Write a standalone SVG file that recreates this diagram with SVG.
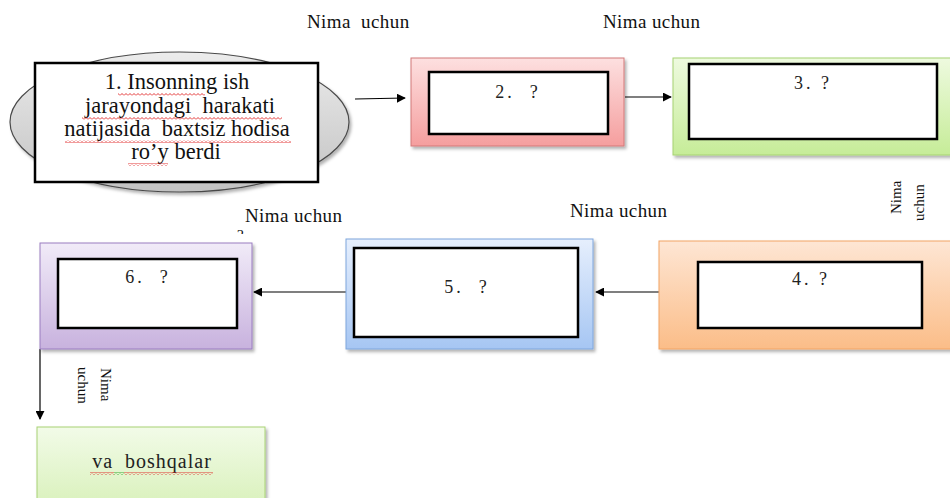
<svg xmlns="http://www.w3.org/2000/svg" width="950" height="498" viewBox="0 0 950 498">
  <defs>
    <style>
      .lbl { font-family: "Liberation Serif", "Times New Roman", serif; font-size: 19px; letter-spacing: 0.4px; fill: #111; }
      .vlbl { font-family: "Liberation Serif", "Times New Roman", serif; font-size: 15px; fill: #111; }
      .main { font-family: "Liberation Serif", "Times New Roman", serif; font-size: 22.5px; fill: #111; text-anchor: middle; }
      .num { font-family: "Liberation Serif", "Times New Roman", serif; font-size: 18px; letter-spacing: 3px; fill: #222; text-anchor: middle; }
      .inner { fill: #ffffff; stroke: #000; stroke-width: 2.5; }
      .wire { stroke: #000; stroke-width: 1.2; fill: none; marker-end: url(#arrow); }
    </style>
    <marker id="arrow" viewBox="0 0 10 10" refX="9" refY="5" markerWidth="9" markerHeight="9" markerUnits="userSpaceOnUse" orient="auto">
      <path d="M0,0 L10,5 L0,10 Z" fill="#000"/>
    </marker>
    <filter id="shadow" x="-5%" y="-5%" width="115%" height="120%">
      <feDropShadow dx="2" dy="2.5" stdDeviation="1.5" flood-color="#000" flood-opacity="0.3"/>
    </filter>
    <linearGradient id="gEllipse" x1="0" y1="0" x2="0" y2="1">
      <stop offset="0" stop-color="#ececec"/>
      <stop offset="1" stop-color="#c2c2c2"/>
    </linearGradient>
    <linearGradient id="gRed" x1="0" y1="0" x2="0" y2="1">
      <stop offset="0" stop-color="#fde0e0"/>
      <stop offset="1" stop-color="#f59e9e"/>
    </linearGradient>
    <linearGradient id="gGreen" x1="0" y1="0" x2="0" y2="1">
      <stop offset="0" stop-color="#eefadf"/>
      <stop offset="1" stop-color="#c6ec98"/>
    </linearGradient>
    <linearGradient id="gOrange" x1="0" y1="0" x2="0" y2="1">
      <stop offset="0" stop-color="#fee6d4"/>
      <stop offset="1" stop-color="#fbbd88"/>
    </linearGradient>
    <linearGradient id="gBlue" x1="0" y1="0" x2="0" y2="1">
      <stop offset="0" stop-color="#e6effd"/>
      <stop offset="1" stop-color="#a6c6f3"/>
    </linearGradient>
    <linearGradient id="gPurple" x1="0" y1="0" x2="0" y2="1">
      <stop offset="0" stop-color="#f1ebf8"/>
      <stop offset="1" stop-color="#c8b2de"/>
    </linearGradient>
    <linearGradient id="gLime" x1="0" y1="0" x2="0" y2="1">
      <stop offset="0" stop-color="#f2fbe8"/>
      <stop offset="1" stop-color="#d9f1bb"/>
    </linearGradient>
    <!-- wavy spell-check underline -->
    <pattern id="wavy" width="4" height="3" patternUnits="userSpaceOnUse">
      <path d="M0,2.5 L2,0.5 L4,2.5" fill="none" stroke="#e02020" stroke-width="0.9"/>
    </pattern>
    <pattern id="wavyG" width="4" height="3" patternUnits="userSpaceOnUse">
      <path d="M0,2.5 L2,0.5 L4,2.5" fill="none" stroke="#20a020" stroke-width="0.9"/>
    </pattern>
    <clipPath id="qClip">
      <rect x="230" y="226" width="20" height="8"/>
    </clipPath>
  </defs>

  <rect width="950" height="498" fill="#ffffff"/>

  <!-- edge labels -->
  <g id="labels">
    <text class="lbl" x="307" y="28" xml:space="preserve">Nima  uchun</text>
    <text class="lbl" x="603" y="28">Nima uchun</text>
    <text class="lbl" x="245" y="222">Nima uchun</text>
    <text class="vlbl" x="237" y="240" clip-path="url(#qClip)">?</text>
    <text class="lbl" x="570" y="217">Nima uchun</text>
    <text class="vlbl" transform="translate(901,214) rotate(-90)">Nima</text>
    <text class="vlbl" transform="translate(924,221) rotate(-90)">uchun</text>
    <rect x="60" y="350" width="75" height="5" fill="#ffffff"/>
    <text class="vlbl" transform="translate(101,368) rotate(90)">Nima</text>
    <text class="vlbl" transform="translate(78,367) rotate(90)">uchun</text>
  </g>

  <!-- connectors -->
  <g id="connectors">
    <line class="wire" x1="355" y1="99" x2="405" y2="98"/>
    <line class="wire" x1="625" y1="97" x2="671" y2="97"/>
    <line class="wire" x1="659" y1="292" x2="596" y2="292"/>
    <line class="wire" x1="346" y1="292" x2="254" y2="292"/>
    <line class="wire" x1="40" y1="349" x2="40" y2="419"/>
  </g>

  <!-- node 1: starting event -->
  <g id="node1">
    <ellipse cx="179.5" cy="122" rx="169.5" ry="70" fill="url(#gEllipse)" stroke="#4a4a4a" stroke-width="1.2" filter="url(#shadow)"/>
    <rect x="35" y="63" width="283" height="119" fill="#ffffff" stroke="#000" stroke-width="2.5"/>
    <text class="main" x="177" y="89">1. Insonning ish</text>
    <text class="main" x="180" y="113" xml:space="preserve">jarayondagi  harakati</text>
    <text class="main" x="177" y="136" xml:space="preserve">natijasida  baxtsiz hodisa</text>
    <text class="main" x="176" y="159">ro’y berdi</text>
    <rect x="118" y="93" width="87" height="3" fill="url(#wavy)"/>
    <rect x="82" y="117" width="200" height="3" fill="url(#wavy)"/>
    <rect x="65" y="140" width="226" height="3" fill="url(#wavy)"/>
    <rect x="128" y="163" width="40" height="3" fill="url(#wavy)"/>
  </g>

  <g id="node2">
    <rect x="411" y="58" width="213" height="88" fill="url(#gRed)" stroke="#d27878" stroke-width="1" filter="url(#shadow)"/>
    <rect class="inner" x="429" y="72" width="179" height="62"/>
    <text class="num" x="518" y="98" xml:space="preserve">2.  ?</text>
  </g>

  <g id="node3">
    <rect x="673" y="58" width="280" height="97" fill="url(#gGreen)" stroke="#a6d272" stroke-width="1" filter="url(#shadow)"/>
    <rect class="inner" x="689" y="64" width="248" height="75"/>
    <text class="num" x="813" y="89">3. ?</text>
  </g>

  <g id="node4">
    <rect x="659" y="241" width="294" height="108" fill="url(#gOrange)" stroke="#f2a464" stroke-width="1" filter="url(#shadow)"/>
    <rect class="inner" x="698" y="262" width="224" height="66"/>
    <text class="num" x="811" y="285">4. ?</text>
  </g>

  <g id="node5">
    <rect x="346" y="239" width="247" height="110" fill="url(#gBlue)" stroke="#7ea6dc" stroke-width="1" filter="url(#shadow)"/>
    <rect class="inner" x="354" y="248" width="224" height="89"/>
    <text class="num" x="467" y="293" xml:space="preserve">5.  ?</text>
  </g>

  <g id="node6">
    <rect x="40" y="243" width="212" height="106" fill="url(#gPurple)" stroke="#9a7cc0" stroke-width="1" filter="url(#shadow)"/>
    <rect class="inner" x="58" y="259" width="179" height="69"/>
    <text class="num" x="148" y="283" xml:space="preserve">6.  ?</text>
  </g>

  <g id="node7">
    <rect x="37" y="427" width="228" height="80" fill="url(#gLime)" stroke="#a8d274" stroke-width="1" filter="url(#shadow)"/>
    <text class="num" x="152" y="468" style="font-size:20px;letter-spacing:1px" xml:space="preserve">va  boshqalar</text>
    <rect x="90" y="472" width="24" height="3" fill="url(#wavy)"/>
    <rect x="114" y="472" width="10" height="3" fill="url(#wavyG)"/>
    <rect x="124" y="472" width="89" height="3" fill="url(#wavy)"/>
  </g>
</svg>
